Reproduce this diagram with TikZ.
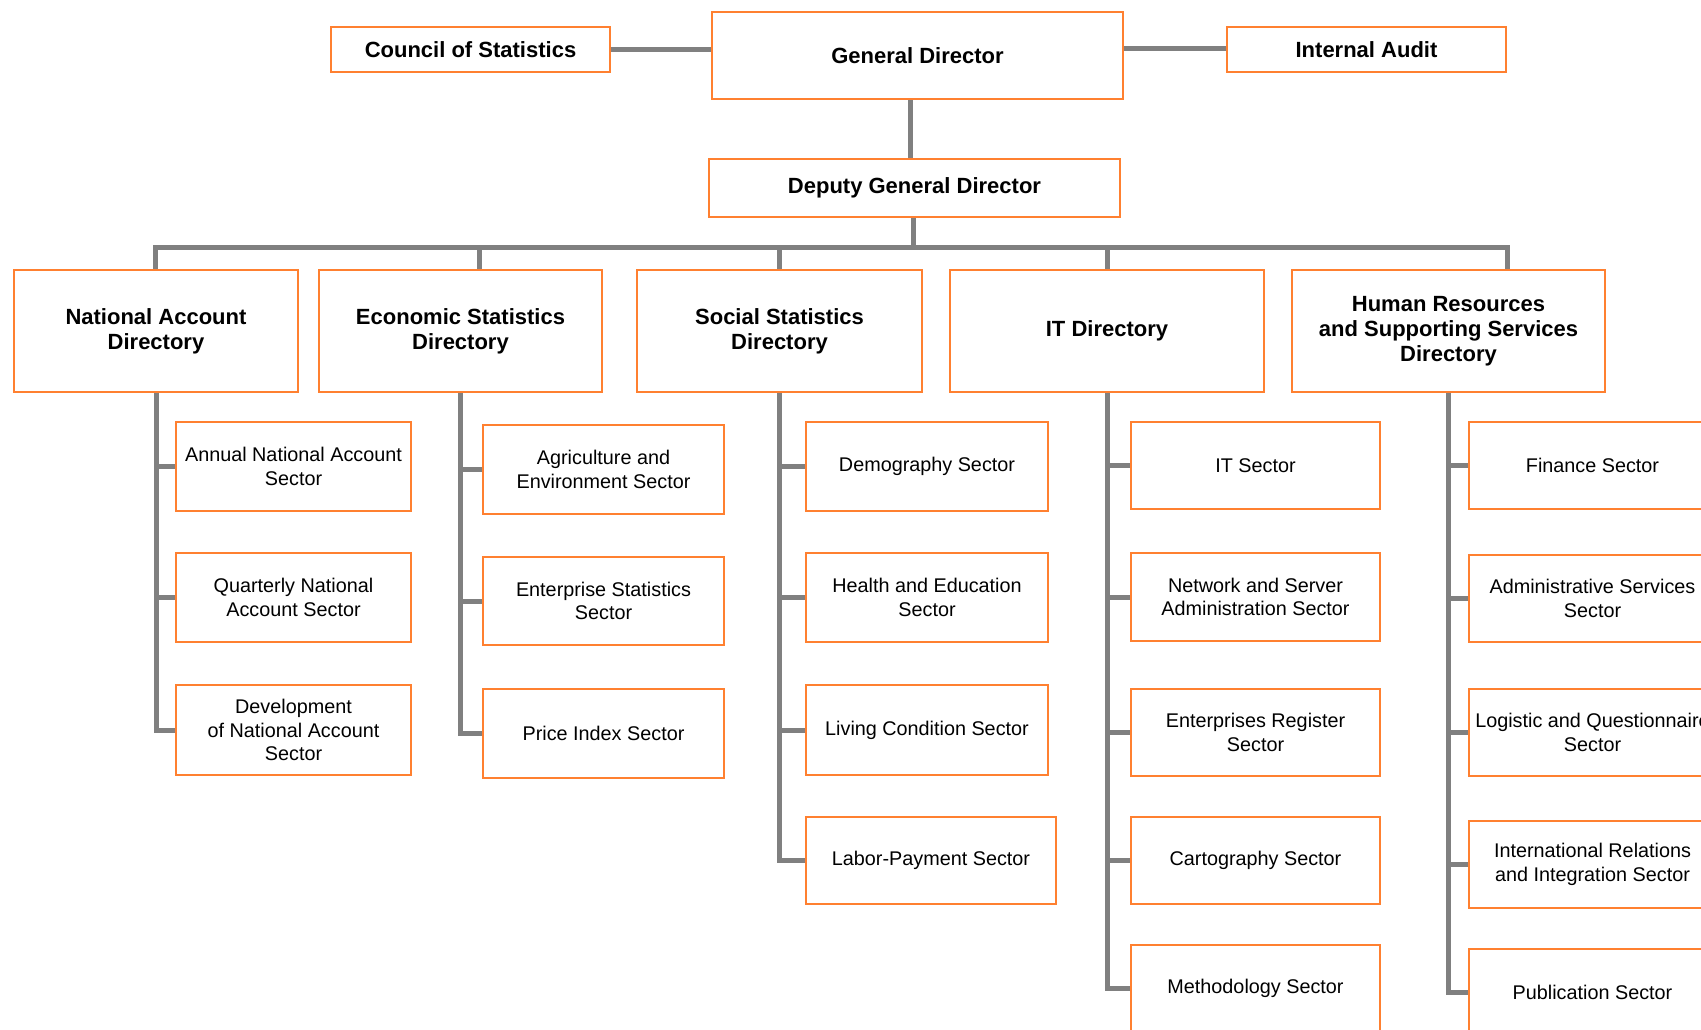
\documentclass[tikz,border=0pt]{standalone}
\usepackage{fontspec}
\setmainfont{Liberation Sans}
\usetikzlibrary{backgrounds}
\definecolor{boxorange}{RGB}{255,128,48}
\definecolor{linegray}{RGB}{128,128,128}
\tikzset{
  box/.style={draw=boxorange, line width=2pt, fill=white, inner sep=0pt, outer sep=0pt, align=center, text=black},
  headbox/.style={box, font=\bfseries\fontsize{22}{25}\selectfont},
  secbox/.style={box, font=\fontsize{19.8}{23.5}\selectfont},
  conn/.style={draw=linegray, line width=5pt, line join=miter}
}
\newcommand\bx[7]{\node[#6, minimum width={(#4-#2)*1pt}, minimum height={(#5-#3)*1pt}] (#1) at ({(#2+#4)/2},{(#3+#5)/2}) {#7};}
\begin{document}
\begin{tikzpicture}[x=1pt,y=-1pt]
\useasboundingbox (0,0) rectangle (1701,1030);
\clip (0,0) rectangle (1701,1030);
% top level
\bx{council}{331}{27}{610}{72}{headbox}{Council of Statistics}
\bx{gd}{712}{12}{1123}{99}{headbox}{General Director}
\bx{audit}{1227}{27}{1506}{72}{headbox}{Internal Audit}
\bx{dep}{709}{159}{1120}{217}{headbox}{Deputy General Director}
% directories
\bx{nad}{14}{270}{298}{392}{headbox}{National Account\\Directory}
\bx{esd}{319}{270}{602}{392}{headbox}{Economic Statistics\\Directory}
\bx{ssd}{637}{270}{922}{392}{headbox}{Social Statistics\\Directory}
\bx{itd}{950}{270}{1264}{392}{headbox}{IT Directory}
\bx{hrd}{1292}{270}{1605}{392}{headbox}{Human Resources\\and Supporting Services\\Directory}
% national account sectors
\bx{na1}{176}{422}{411}{511}{secbox}{Annual National Account\\Sector}
\bx{na2}{176}{553}{411}{642}{secbox}{Quarterly National\\Account Sector}
\bx{na3}{176}{685}{411}{775}{secbox}{Development\\of National Account\\Sector}
% economic sectors
\bx{es1}{483}{425}{724}{514}{secbox}{Agriculture and\\Environment Sector}
\bx{es2}{483}{557}{724}{645}{secbox}{Enterprise Statistics\\Sector}
\bx{es3}{483}{689}{724}{778}{secbox}{Price Index Sector}
% social sectors
\bx{ss1}{806}{422}{1048}{511}{secbox}{Demography Sector}
\bx{ss2}{806}{553}{1048}{642}{secbox}{Health and Education\\Sector}
\bx{ss3}{806}{685}{1048}{775}{secbox}{Living Condition Sector}
\bx{ss4}{806}{817}{1056}{904}{secbox}{Labor-Payment Sector}
% IT sectors
\bx{it1}{1131}{422}{1380}{509}{secbox}{IT Sector}
\bx{it2}{1131}{553}{1380}{641}{secbox}{Network and Server\\Administration Sector}
\bx{it3}{1131}{689}{1380}{776}{secbox}{Enterprises Register\\Sector}
\bx{it4}{1131}{817}{1380}{904}{secbox}{Cartography Sector}
\bx{it5}{1131}{945}{1380}{1032}{secbox}{Methodology Sector}
% HR sectors
\bx{hr1}{1469}{422}{1716}{509}{secbox}{Finance Sector}
\bx{hr2}{1469}{555}{1716}{642}{secbox}{Administrative Services\\Sector}
\bx{hr3}{1469}{689}{1716}{776}{secbox}{Logistic and Questionnaire\\Sector}
\bx{hr4}{1469}{821}{1716}{908}{secbox}{International Relations\\and Integration Sector}
\bx{hr5}{1469}{949}{1716}{1036}{secbox}{Publication Sector}
% connector coordinates
\coordinate (gdt) at (910,99);
\coordinate (dept) at (910,159);
\coordinate (depb) at (913,217);
\coordinate (busy) at (913,247);
\coordinate (busL) at (155,247);
\coordinate (busR) at (1507,247);
\coordinate (dropE) at (479,247);
\coordinate (dropS) at (779,247);
\coordinate (dropI) at (1107,247);
\begin{pgfonlayer}{background}
\draw[conn] (council.east |- 0,50) -- (gd.west |- 0,50);
\draw[conn] (gd.east |- 0,49) -- (audit.west |- 0,49);
\draw[conn] (gdt) -- (dept);
\draw[conn] (depb) -- (busy);
\draw[conn] (busL |- nad.north) -- (busL) -- (busR) -- (busR |- hrd.north);
\draw[conn] (dropE) -- (dropE |- esd.north);
\draw[conn] (dropS) -- (dropS |- ssd.north);
\draw[conn] (dropI) -- (dropI |- itd.north);
% spines
\draw[conn] (nad.south) |- (na3.west);
\draw[conn] (nad.south |- na1.west) -- (na1.west);
\draw[conn] (nad.south |- na2.west) -- (na2.west);
\draw[conn] (esd.south) |- (es3.west);
\draw[conn] (esd.south |- es1.west) -- (es1.west);
\draw[conn] (esd.south |- es2.west) -- (es2.west);
\draw[conn] (ssd.south) |- (ss4.west);
\draw[conn] (ssd.south |- ss1.west) -- (ss1.west);
\draw[conn] (ssd.south |- ss2.west) -- (ss2.west);
\draw[conn] (ssd.south |- ss3.west) -- (ss3.west);
\draw[conn] (itd.south) |- (it5.west);
\draw[conn] (itd.south |- it1.west) -- (it1.west);
\draw[conn] (itd.south |- it2.west) -- (it2.west);
\draw[conn] (itd.south |- it3.west) -- (it3.west);
\draw[conn] (itd.south |- it4.west) -- (it4.west);
\draw[conn] (hrd.south) |- (hr5.west);
\draw[conn] (hrd.south |- hr1.west) -- (hr1.west);
\draw[conn] (hrd.south |- hr2.west) -- (hr2.west);
\draw[conn] (hrd.south |- hr3.west) -- (hr3.west);
\draw[conn] (hrd.south |- hr4.west) -- (hr4.west);
\end{pgfonlayer}
\end{tikzpicture}
\end{document}
